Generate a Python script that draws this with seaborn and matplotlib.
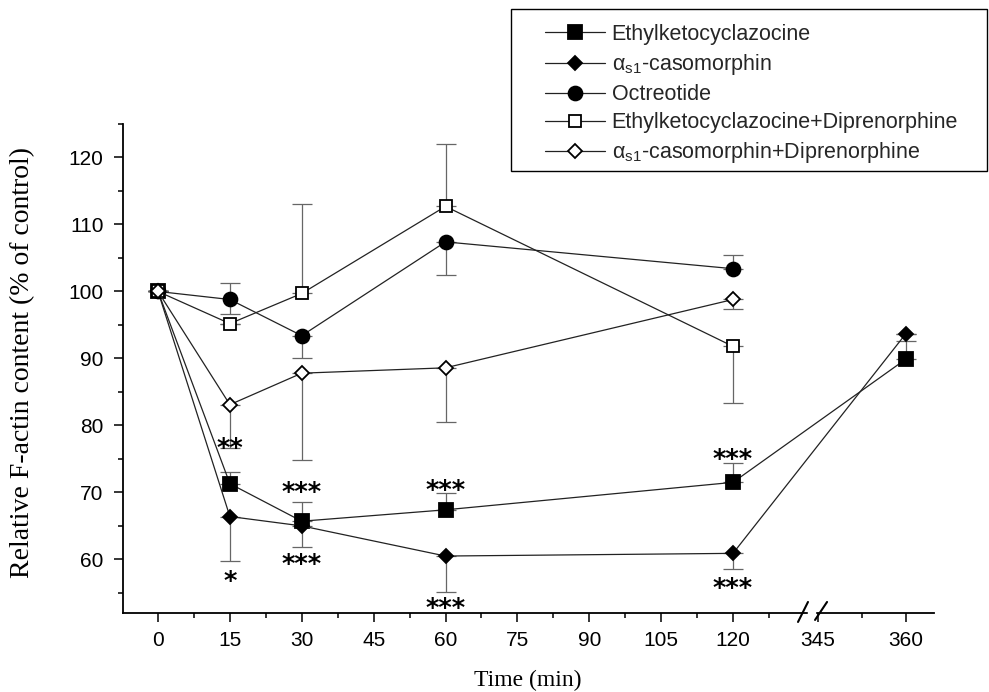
import numpy as np
import seaborn as sns
from matplotlib import pyplot as plt
from matplotlib.lines import Line2D
from matplotlib.patches import Rectangle

# Zeitpunkte (min)
zeit_kurz = [0, 15, 30, 60, 120]
zeit_lang = [0, 15, 30, 60, 120, 360]

# Ethylketocyclazocine
ekc = [100, 71.3, 65.7, 67.4, 71.5, 89.9]
ekc_fehler_unten = [0, 0, 0, 0, 0, 0]
ekc_fehler_oben = [0, 1.7, 2.9, 2.5, 2.9, 2.7]

# alpha_s1-casomorphin
cas = [100, 66.4, 65.0, 60.5, 60.9, 93.7]
cas_fehler_unten = [0, 6.7, 3.1, 5.3, 2.4, 0]
cas_fehler_oben = [0, 0, 0, 0, 0, 0]

# Octreotide
octr = [100, 98.8, 93.4, 107.4, 103.4]
octr_fehler_unten = [0, 2.2, 3.4, 5.0, 0]
octr_fehler_oben = [0, 2.4, 0, 0, 2.0]

# Ethylketocyclazocine + Diprenorphine
ekc_dip = [100, 95.2, 99.7, 112.7, 91.8]
ekc_dip_fehler_unten = [0, 0, 0, 0, 8.4]
ekc_dip_fehler_oben = [0, 0, 13.3, 9.3, 0]

# alpha_s1-casomorphin + Diprenorphine
cas_dip = [100, 83.1, 87.8, 88.6, 98.8]
cas_dip_fehler_unten = [0, 6.4, 12.9, 8.1, 1.4]
cas_dip_fehler_oben = [0, 0, 0, 0, 0]

# Signifikanz-Sterne (x, y, Text)
sterne_x = [15, 15, 30, 30, 60, 60, 120, 120]
sterne_y = [77.4, 57.5, 70.7, 60.0, 71.0, 53.4, 75.7, 56.4]
sterne_text = ['**', '*', '***', '***', '***', '***', '***', '***']

x_ticks = [0, 15, 30, 45, 60, 75, 90, 105, 120, 345, 360]
x_minor = [7.5, 22.5, 37.5, 52.5, 67.5, 82.5, 97.5, 112.5, 127.5, 352.5]

namen = ['Ethylketocyclazocine',
         r'α$_{\mathregular{s1}}$-casomorphin',
         'Octreotide',
         'Ethylketocyclazocine+Diprenorphine',
         r'α$_{\mathregular{s1}}$-casomorphin+Diprenorphine']

sns.set_theme(style='ticks')
plt.rcParams['font.family'] = ['Liberation Sans', 'DejaVu Sans']
plt.rcParams['mathtext.fontset'] = 'custom'
plt.rcParams['mathtext.rm'] = 'Liberation Sans'

# gebrochene x-Achse: 0..135 linear, Luecke, ab 343.6 mit anderer Skala
knoten_x = np.array([-1000.0, 135.0, 343.6, 2000.0])
knoten_u = np.array([-1000.0, 135.0, 136.0, 136.0 + (2000.0 - 343.6) * 1.224])


def vorwaerts(x):
    return np.interp(x, knoten_x, knoten_u)


def rueckwaerts(u):
    return np.interp(u, knoten_u, knoten_x)


fig = plt.figure(figsize=(9.89, 6.92), dpi=100)
ax = fig.add_axes([0.1244, 0.1142, 0.82, 0.7066])
ax.set_xscale('function', functions=(vorwaerts, rueckwaerts))

fehler_farbe = '#666666'
linien_farbe = '#222222'

serien = [
    (zeit_lang, ekc, ekc_fehler_unten, ekc_fehler_oben, 's', 'black', 9.5),
    (zeit_lang, cas, cas_fehler_unten, cas_fehler_oben, 'D', 'black', 7.5),
    (zeit_kurz, octr, octr_fehler_unten, octr_fehler_oben, 'o', 'black', 10),
    (zeit_kurz, ekc_dip, ekc_dip_fehler_unten, ekc_dip_fehler_oben, 's', 'white', 8.5),
    (zeit_kurz, cas_dip, cas_dip_fehler_unten, cas_dip_fehler_oben, 'D', 'white', 7),
]

handles = []
for i, (xs, ys, unten, oben, marker, fuellung, groesse) in enumerate(serien):
    ax.errorbar(xs, ys, yerr=[unten, oben], fmt='none', ecolor=fehler_farbe,
                elinewidth=0.9, capsize=7.5, capthick=0.9, zorder=2)
    sns.lineplot(x=xs, y=ys, ax=ax, color=linien_farbe, linewidth=0.9,
                 marker=marker, markersize=groesse, markerfacecolor=fuellung,
                 markeredgecolor='black', markeredgewidth=1.3, zorder=3 + i)
    handles.append(Line2D([], [], color=linien_farbe, linewidth=0.9,
                          marker=marker, markersize=groesse,
                          markerfacecolor=fuellung, markeredgecolor='black',
                          markeredgewidth=1.3))

# Sterne: Text-Mitte liegt etwas unter dem sichtbaren Stern
for x, y, t in zip(sterne_x, sterne_y, sterne_text):
    ax.text(x, y - 1.0, t, ha='center', va='center', fontsize=18.5,
            family='DejaVu Sans', weight='bold', color='black')

ax.set_xlim(-7.3, 364.8)
ax.set_ylim(52, 125)
ax.set_xticks(x_ticks)
ax.set_xticklabels([str(t) for t in x_ticks])
ax.set_xticks(x_minor, minor=True)
ax.set_yticks(range(60, 121, 10))
ax.set_yticks(range(55, 126, 5), minor=True)
ax.tick_params(axis='both', which='major', direction='out', length=6.5,
               width=1.1, labelsize=15, color='black', labelcolor='black')
ax.tick_params(axis='both', which='minor', direction='out', length=3.8,
               width=1.1, color='black')
ax.tick_params(axis='x', pad=6.5)
ax.tick_params(axis='y', pad=7.5)

sns.despine(ax=ax)
for s in ['left', 'bottom']:
    ax.spines[s].set_color('black')
    ax.spines[s].set_linewidth(1.3)

ax.set_xlabel('Time (min)', family='Liberation Serif', fontsize=17, color='black')
ax.set_ylabel('Relative F-actin content (% of control)', family='Liberation Serif',
              fontsize=20, color='black')
ax.xaxis.set_label_coords(0.499, -0.117)
ax.yaxis.set_label_coords(-0.109, 0.513)

# Bruchzeichen auf der x-Achse
ax.add_patch(Rectangle((0.8446, -0.01), 0.0087, 0.02, transform=ax.transAxes,
                       color='white', clip_on=False, zorder=10))
ax.plot([0.8323, 0.8446], [-0.0184, 0.0225], transform=ax.transAxes,
        color='black', lw=1.5, clip_on=False, zorder=11)
ax.plot([0.8533, 0.8681], [-0.0143, 0.0225], transform=ax.transAxes,
        color='black', lw=1.5, clip_on=False, zorder=11)

# Legende mit eigenem Rahmen
fig.patches.append(Rectangle((511 / 989, 1 - 171 / 692), 476 / 989, 162 / 692,
                             transform=fig.transFigure, fill=False,
                             edgecolor='black', linewidth=1.0))
fig.legend(handles, namen, loc='upper left', bbox_to_anchor=(545 / 989, 1 - 24 / 692),
           frameon=False, fontsize=15.5, handlelength=2.8, handletextpad=0.3,
           labelspacing=0.33, borderpad=0, borderaxespad=0)

fig.savefig('out.png', dpi=100)
